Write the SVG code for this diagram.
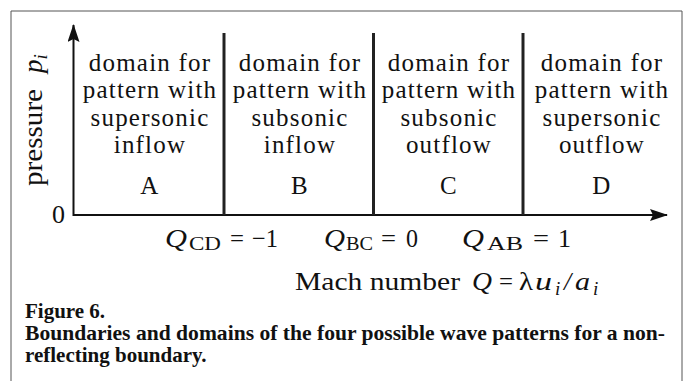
<svg xmlns="http://www.w3.org/2000/svg" width="691" height="381" viewBox="0 0 691 381">
<style>
.dom{font-family:"Liberation Serif",serif;font-size:25px;letter-spacing:1.2px;text-anchor:middle;fill:#111}
.lbl{font-family:"Liberation Serif",serif;font-size:26px;fill:#111}
.it{font-style:italic}
.sub{font-size:19px}
.cap{font-family:"Liberation Serif",serif;font-weight:bold;font-size:21px;fill:#111}
.axis{stroke:#111;stroke-width:2;fill:none}
.div{stroke:#222;stroke-width:3;fill:none}
</style>
<defs>
<marker id="arr" viewBox="0 0 18 12" refX="17" refY="6" markerWidth="18" markerHeight="12" markerUnits="userSpaceOnUse" orient="auto">
<path d="M0,0 L18,6 L0,12 L3,6 Z" fill="#111"/>
</marker>
</defs>
<path d="M11,381 V11 H682 V381" fill="none" stroke="#555" stroke-width="1"/>
<g id="connectors">
<line class="axis" x1="73.5" y1="216" x2="73.5" y2="25" marker-end="url(#arr)"/>
<line class="axis" x1="73.5" y1="215" x2="667" y2="215" marker-end="url(#arr)"/>
<line class="div" x1="224" y1="33" x2="224" y2="215"/>
<line class="div" x1="373.5" y1="33" x2="373.5" y2="215"/>
<line class="div" x1="523" y1="33" x2="523" y2="215"/>
</g>
<g id="domainA">
<text class="dom" x="150" y="71">domain for</text>
<text class="dom" x="150" y="98">pattern with</text>
<text class="dom" x="150" y="126">supersonic</text>
<text class="dom" x="150" y="153">inflow</text>
<text class="dom" x="150" y="194">A</text>
</g>
<g id="domainB">
<text class="dom" x="300" y="71">domain for</text>
<text class="dom" x="300" y="98">pattern with</text>
<text class="dom" x="300" y="126">subsonic</text>
<text class="dom" x="300" y="153">inflow</text>
<text class="dom" x="300" y="194">B</text>
</g>
<g id="domainC">
<text class="dom" x="449" y="71">domain for</text>
<text class="dom" x="449" y="98">pattern with</text>
<text class="dom" x="449" y="126">subsonic</text>
<text class="dom" x="449" y="153">outflow</text>
<text class="dom" x="449" y="194">C</text>
</g>
<g id="domainD">
<text class="dom" x="602" y="71">domain for</text>
<text class="dom" x="602" y="98">pattern with</text>
<text class="dom" x="602" y="126">supersonic</text>
<text class="dom" x="602" y="153">outflow</text>
<text class="dom" x="602" y="194">D</text>
</g>
<g id="yaxis-label">
<text class="lbl" transform="translate(42,186) rotate(-90)" style="font-size:27px"><tspan x="0" textLength="97" lengthAdjust="spacingAndGlyphs">pressure</tspan><tspan class="it" x="113">p</tspan><tspan class="sub it" dy="5">i</tspan></text>
<text class="lbl" x="52" y="223">0</text>
</g>
<g id="ticks">
<text class="lbl" y="247"><tspan class="it" x="165" textLength="22" lengthAdjust="spacingAndGlyphs">Q</tspan><tspan class="sub" x="189" dy="3" textLength="32" lengthAdjust="spacingAndGlyphs">CD</tspan><tspan x="230" dy="-3" textLength="14" lengthAdjust="spacingAndGlyphs">=</tspan><tspan x="252" textLength="26" lengthAdjust="spacingAndGlyphs">−1</tspan></text>
<text class="lbl" y="247"><tspan class="it" x="324" textLength="21" lengthAdjust="spacingAndGlyphs">Q</tspan><tspan class="sub" x="346" dy="3" textLength="27" lengthAdjust="spacingAndGlyphs">BC</tspan><tspan x="381" dy="-3" textLength="15" lengthAdjust="spacingAndGlyphs">=</tspan><tspan x="406" textLength="12" lengthAdjust="spacingAndGlyphs">0</tspan></text>
<text class="lbl" y="247"><tspan class="it" x="462" textLength="22" lengthAdjust="spacingAndGlyphs">Q</tspan><tspan class="sub" x="487" dy="3" textLength="36" lengthAdjust="spacingAndGlyphs">AB</tspan><tspan x="533" dy="-3" textLength="16" lengthAdjust="spacingAndGlyphs">=</tspan><tspan x="558">1</tspan></text>
</g>
<g id="xaxis-label">
<text class="lbl" y="290"><tspan x="295" textLength="165" lengthAdjust="spacingAndGlyphs">Mach number</tspan><tspan x="472" class="it" textLength="20" lengthAdjust="spacingAndGlyphs">Q</tspan><tspan x="499" textLength="14" lengthAdjust="spacingAndGlyphs">=</tspan><tspan x="519" textLength="14" lengthAdjust="spacingAndGlyphs">λ</tspan><tspan class="it" x="535" textLength="17" lengthAdjust="spacingAndGlyphs">u</tspan><tspan class="sub it" x="555" dy="5">i</tspan><tspan class="it" x="564" dy="-5">/</tspan><tspan class="it" x="575" textLength="15" lengthAdjust="spacingAndGlyphs">a</tspan><tspan class="sub it" x="593" dy="5">i</tspan></text>
</g>
<g id="caption">
<text class="cap" x="25" y="318">Figure 6.</text>
<text class="cap" x="25" y="340" textLength="640" lengthAdjust="spacingAndGlyphs">Boundaries and domains of the four possible wave patterns for a non-</text>
<text class="cap" x="25" y="362">reflecting boundary.</text>
</g>
</svg>
